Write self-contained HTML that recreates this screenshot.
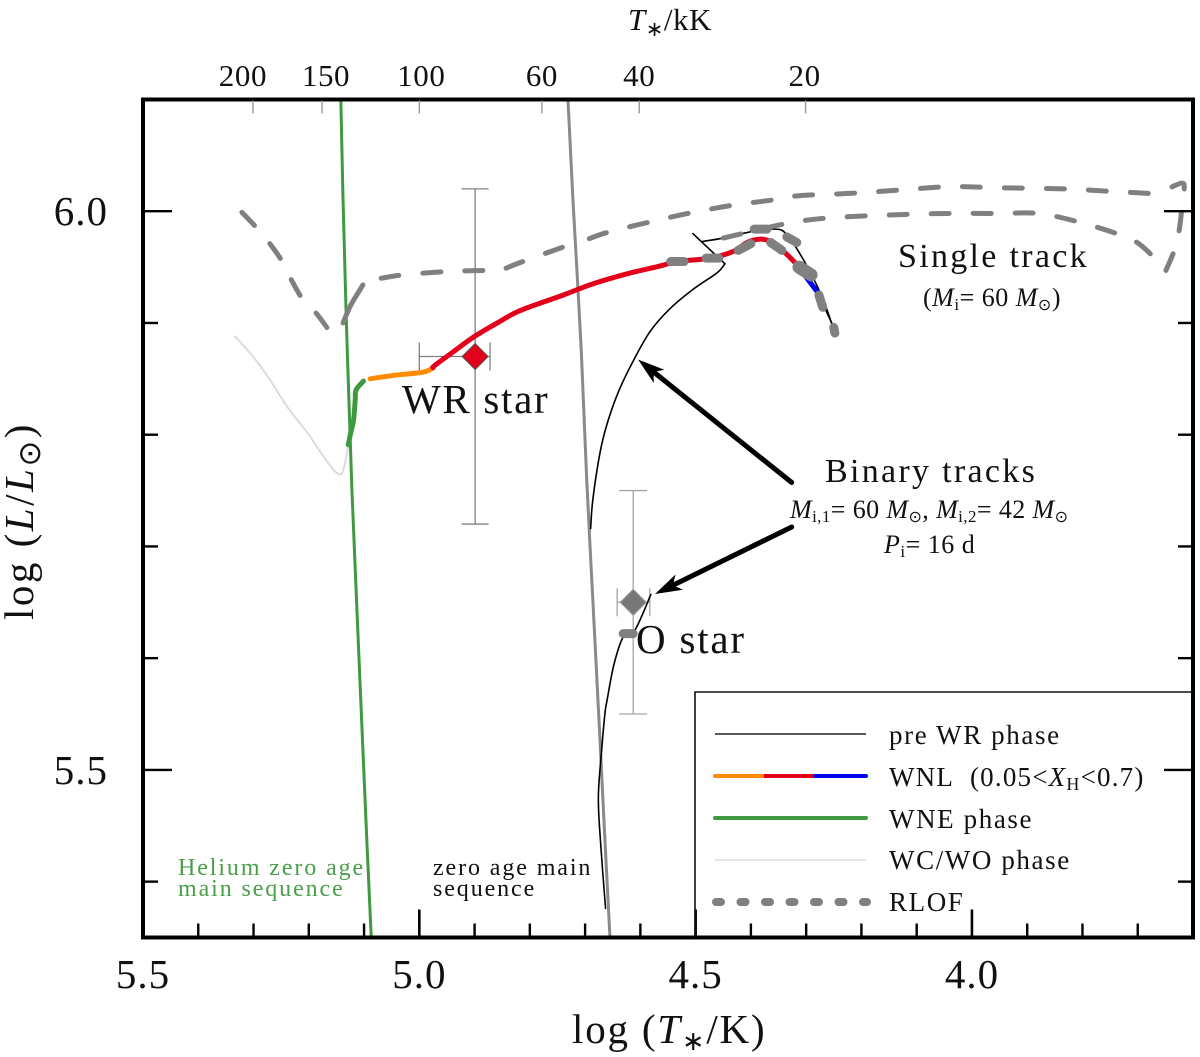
<!DOCTYPE html>
<html lang="en">
<head>
<meta charset="utf-8">
<title>HR diagram with single and binary tracks</title>
<style>
  html, body { margin: 0; padding: 0; background: #fff; }
  svg { display: block; font-family: "Liberation Serif", "DejaVu Serif", serif; fill: #111; }
  .i { font-style: italic; }
</style>
</head>
<body>
<svg id="chart" xmlns="http://www.w3.org/2000/svg" width="1200" height="1057" viewBox="0 0 1200 1057">
  <rect x="0" y="0" width="1200" height="1057" fill="#fff"/>
  <g id="marks"></g>
  <g id="axes"></g>

  <text x="628" y="30" font-size="31" letter-spacing="0.5"><tspan class="i">T</tspan><tspan dy="6" font-size="21" font-family="DejaVu Sans, sans-serif">∗</tspan><tspan dy="-6">/kK</tspan></text>
  <text x="572" y="1043" font-size="41" letter-spacing="1.8">log (<tspan class="i">T</tspan><tspan dy="7" font-size="27" font-family="DejaVu Sans, sans-serif">∗</tspan><tspan dy="-7">/K)</tspan></text>
  <text transform="translate(33,620) rotate(-90)" font-size="41" letter-spacing="2.5">log (<tspan class="i">L</tspan>/<tspan class="i">L</tspan><tspan dy="7" font-size="31" font-family="DejaVu Sans, sans-serif">⊙</tspan><tspan dy="-7">)</tspan></text>

  <text x="402" y="413" font-size="41" letter-spacing="1.7">WR star</text>
  <text x="636" y="653" font-size="41" letter-spacing="1.8">O star</text>

  <text x="898" y="267" font-size="34" letter-spacing="2.3">Single track</text>
  <text x="923" y="306" font-size="26" letter-spacing="0.5">(<tspan class="i">M</tspan><tspan dy="4" font-size="17">i</tspan><tspan dy="-4">= 60 </tspan><tspan class="i">M</tspan><tspan dy="4" font-size="16" font-family="DejaVu Sans, sans-serif">⊙</tspan><tspan dy="-4">)</tspan></text>

  <text x="825" y="482" font-size="34" letter-spacing="2.3">Binary tracks</text>
  <text x="790" y="518" font-size="26" letter-spacing="0.4"><tspan class="i">M</tspan><tspan dy="4" font-size="17">i,1</tspan><tspan dy="-4">= 60 </tspan><tspan class="i">M</tspan><tspan dy="4" font-size="16" font-family="DejaVu Sans, sans-serif">⊙</tspan><tspan dy="-4">, </tspan><tspan class="i">M</tspan><tspan dy="4" font-size="17">i,2</tspan><tspan dy="-4">= 42 </tspan><tspan class="i">M</tspan><tspan dy="4" font-size="16" font-family="DejaVu Sans, sans-serif">⊙</tspan></text>
  <text x="884" y="553" font-size="26" letter-spacing="0.5"><tspan class="i">P</tspan><tspan dy="4" font-size="17">i</tspan><tspan dy="-4">= 16 d</tspan></text>

  <g font-size="24" letter-spacing="1.9" style="fill:#4a9e4a">
    <text x="178" y="875">Helium zero age</text>
    <text x="178" y="896">main sequence</text>
  </g>
  <g font-size="24" letter-spacing="1.9">
    <text x="433" y="875">zero age main</text>
    <text x="433" y="896">sequence</text>
  </g>

  <g id="arrow1"></g>
  <g id="arrow2"></g>

  <g>
    <path d="M695 937 V692 H1193" fill="none" stroke="#111" stroke-width="1.6"/>
    <line x1="715" y1="734" x2="866" y2="734" stroke="#222" stroke-width="1.5"/>
    <line x1="715" y1="776" x2="764" y2="776" stroke="#ff8c00" stroke-width="4" stroke-linecap="round"/>
    <line x1="814" y1="776" x2="866" y2="776" stroke="#0000ee" stroke-width="4" stroke-linecap="round"/>
    <line x1="764" y1="776" x2="814" y2="776" stroke="#e2001a" stroke-width="4"/>
    <line x1="715" y1="818" x2="866" y2="818" stroke="#3f9a3f" stroke-width="4" stroke-linecap="round"/>
    <line x1="715" y1="860" x2="866" y2="860" stroke="#dcdcdc" stroke-width="1.5"/>
    <line x1="716" y1="902" x2="867" y2="902" stroke="#808080" stroke-width="8" stroke-linecap="round" stroke-dasharray="5 19.5"/>
    <g font-size="27" letter-spacing="1.6">
      <text x="889" y="744">pre WR phase</text>
      <text x="889" y="786" letter-spacing="1.2">WNL&#160;&#160;(0.05&lt;<tspan class="i">X</tspan><tspan dy="4" font-size="18">H</tspan><tspan dy="-4">&lt;0.7)</tspan></text>
      <text x="889" y="828">WNE phase</text>
      <text x="889" y="869">WC/WO phase</text>
      <text x="889" y="911">RLOF</text>
    </g>
  </g>
</svg>
<script>
// ---- Axis domains
const xDomain = [5.5, 3.6];
const yDomain = [6.1, 5.35];
const xMajorTicks = [5.5, 5.0, 4.5, 4.0];
const xMajorLabels = ['5.5', '5.0', '4.5', '4.0'];
const xMinorTicks = [5.4, 5.3, 5.2, 5.1, 4.9, 4.8, 4.7, 4.6, 4.4, 4.3, 4.2, 4.1, 3.9, 3.8, 3.7];
const yMajorTicks = [6.0, 5.5];
const yMajorLabels = ['6.0', '5.5'];
const yMinorTicks = [5.9, 5.8, 5.7, 5.6, 5.4];
const topTickKiloKelvin = [200, 150, 100, 60, 40, 20];
const topLabelShift = { 200: -10, 150: 4, 100: 2, 60: 0, 40: 0, 20: -1 };

// ---- Reference lines (log T, log L)
const heliumZamsLogT = [5.142, 5.138, 5.131, 5.122, 5.109, 5.095, 5.087];
const heliumZamsLogL = [6.100, 6.010, 5.885, 5.751, 5.598, 5.437, 5.350];
const zamsLogT = [4.731, 4.722, 4.707, 4.697, 4.686, 4.674, 4.665, 4.655];
const zamsLogL = [6.100, 6.010, 5.876, 5.759, 5.652, 5.536, 5.446, 5.350];

// ---- Single star track (dashed), listed from the start of the run
const singleTrackLogT = [4.450, 4.407, 4.335, 4.260, 4.130, 4.040, 3.949, 3.879, 3.804, 3.732, 3.701, 3.669, 3.649, 3.633, 3.625, 3.620, 3.616, 3.618, 3.633, 3.647, 3.681, 3.756, 3.832, 3.949, 4.040, 4.130, 4.221, 4.311, 4.362, 4.438, 4.514, 4.586, 4.660, 4.700, 4.733, 4.745, 4.818, 4.843, 4.876, 4.952, 5.030, 5.069, 5.102, 5.124, 5.138, 5.153, 5.163, 5.187, 5.212, 5.232, 5.248, 5.272, 5.294, 5.321];
const singleTrackLogL = [5.976, 5.981, 5.989, 5.994, 5.997, 5.998, 5.998, 5.998, 5.990, 5.979, 5.972, 5.958, 5.947, 5.966, 5.983, 6.003, 6.019, 6.025, 6.023, 6.019, 6.016, 6.018, 6.020, 6.021, 6.022, 6.019, 6.016, 6.014, 6.010, 6.005, 5.998, 5.990, 5.981, 5.974, 5.969, 5.967, 5.954, 5.949, 5.947, 5.946, 5.943, 5.940, 5.934, 5.916, 5.900, 5.891, 5.893, 5.909, 5.922, 5.939, 5.955, 5.972, 5.985, 5.999];

// ---- Binary primary track phases
const wcWoLogT = [5.3335, 5.301, 5.270, 5.239, 5.203, 5.167, 5.147, 5.138, 5.129];
const wcWoLogL = [5.888, 5.870, 5.849, 5.825, 5.802, 5.776, 5.765, 5.768, 5.788];
const wneLogT = [5.1285, 5.124, 5.119, 5.116, 5.1145, 5.101];
const wneLogL = [5.791, 5.802, 5.813, 5.831, 5.840, 5.848];
const wnlOrangeLogT = [5.089, 5.048, 4.993, 4.975];
const wnlOrangeLogL = [5.850, 5.853, 5.856, 5.860];
const wnlRedLogT = [4.975, 4.972, 4.939, 4.903, 4.859, 4.818, 4.745, 4.686, 4.624, 4.564, 4.534, 4.474, 4.432, 4.407, 4.383, 4.365, 4.347, 4.320];
const wnlRedLogL = [5.860, 5.862, 5.874, 5.887, 5.900, 5.911, 5.924, 5.935, 5.944, 5.951, 5.955, 5.958, 5.964, 5.972, 5.975, 5.973, 5.967, 5.954];
const wnlBlueLogT = [4.320, 4.280];
const wnlBlueLogL = [5.954, 5.928];

// ---- Pre-WR thin tracks
const preWrPrimaryLogT = [4.690, 4.686, 4.673, 4.660, 4.640, 4.615, 4.583, 4.546, 4.505, 4.461, 4.447];
const preWrPrimaryLogL = [5.716, 5.742, 5.784, 5.810, 5.838, 5.864, 5.892, 5.913, 5.930, 5.945, 5.953];
const preWrHookLogT = [4.447, 4.505];
const preWrHookLogL = [5.953, 5.980];
const preWrUpperLogT = [4.487, 4.450, 4.396, 4.356, 4.335, 4.302, 4.271, 4.250];
const preWrUpperLogL = [5.973, 5.976, 5.982, 5.984, 5.979, 5.954, 5.923, 5.894];
const preWrTailLogT = [4.280, 4.251];
const preWrTailLogL = [5.928, 5.897];
const secondaryLogT = [4.663, 4.672, 4.676, 4.670, 4.664, 4.660, 4.648, 4.631, 4.610, 4.581];
const secondaryLogL = [5.376, 5.435, 5.476, 5.518, 5.551, 5.563, 5.594, 5.619, 5.625, 5.657];

// ---- RLOF segments
const rlofStartLogT = [4.545, 4.481, 4.423, 4.364, 4.394, 4.335, 4.313, 4.277, 4.250, 4.631];
const rlofEndLogT   = [4.521, 4.458, 4.400, 4.344, 4.371, 4.317, 4.291, 4.270, 4.248, 4.613];
const rlofStartLogL = [5.955, 5.958, 5.965, 5.972, 5.984, 5.977, 5.950, 5.925, 5.896, 5.622];
const rlofEndLogL   = [5.955, 5.958, 5.971, 5.965, 5.984, 5.972, 5.943, 5.914, 5.891, 5.622];

// ---- Observed stars
const wrStarLogT = 4.899;
const wrStarLogL = 5.870;
const wrStarTRange = [5.000, 4.872];
const wrStarLRange = [6.020, 5.720];
const oStarLogT = 4.613;
const oStarLogL = 5.650;
const oStarTRange = [4.642, 4.583];
const oStarLRange = [5.750, 5.550];

// ---- Axis functions
const plotLeft = 143, plotRight = 1193, plotTop = 99.5, plotBottom = 937.5;
function xScale(v) { return plotLeft + (xDomain[0] - v) / (xDomain[0] - xDomain[1]) * (plotRight - plotLeft); }
function yScale(v) { return plotTop + (yDomain[0] - v) / (yDomain[0] - yDomain[1]) * (plotBottom - plotTop); }

const NS = 'http://www.w3.org/2000/svg';
const marks = document.getElementById('marks');
const axes = document.getElementById('axes');

function smoothPath(xs, ys) {
  const px = xs.map(xScale), py = ys.map(yScale);
  let d = 'M' + px[0].toFixed(2) + ' ' + py[0].toFixed(2);
  for (let i = 0; i < px.length - 1; i++) {
    const a = Math.max(i - 1, 0), b = Math.min(i + 2, px.length - 1);
    const c1x = px[i] + (px[i + 1] - px[a]) / 6, c1y = py[i] + (py[i + 1] - py[a]) / 6;
    const c2x = px[i + 1] - (px[b] - px[i]) / 6, c2y = py[i + 1] - (py[b] - py[i]) / 6;
    d += 'C' + c1x.toFixed(2) + ' ' + c1y.toFixed(2) + ' ' + c2x.toFixed(2) + ' ' + c2y.toFixed(2) + ' ' + px[i + 1].toFixed(2) + ' ' + py[i + 1].toFixed(2);
  }
  return d;
}

function drawSeries(xs, ys, name, color, width, dash, cap) {
  const el = document.createElementNS(NS, 'path');
  
  
  el.setAttribute('d', smoothPath(xs, ys));
  el.setAttribute('fill', 'none');
  el.setAttribute('stroke', color);
  el.setAttribute('stroke-width', width);
  el.setAttribute('stroke-linejoin', 'round');
  el.setAttribute('stroke-linecap', cap || 'round');
  if (dash) el.setAttribute('stroke-dasharray', dash);
  marks.appendChild(el);
  return el;
}

function drawRule(parent, x1, y1, x2, y2, name, color, width) {
  const el = document.createElementNS(NS, 'line');
  
  
  el.setAttribute('x1', x1);
  el.setAttribute('y1', y1);
  el.setAttribute('x2', x2);
  el.setAttribute('y2', y2);
  el.setAttribute('stroke', color);
  el.setAttribute('stroke-width', width);
  parent.appendChild(el);
}

function drawLabel(parent, x, y, str, size, anchor, name, spacing) {
  const el = document.createElementNS(NS, 'text');
  
  
  el.setAttribute('x', x);
  el.setAttribute('y', y);
  el.setAttribute('font-size', size);
  el.setAttribute('text-anchor', anchor);
  el.setAttribute('letter-spacing', spacing);
  el.textContent = str;
  parent.appendChild(el);
}

function drawDiamond(cx, cy, r, fill, stroke, name) {
  const el = document.createElementNS(NS, 'polygon');
  
  
  el.setAttribute('points', (cx - r) + ',' + cy + ' ' + cx + ',' + (cy - r) + ' ' + (cx + r) + ',' + cy + ' ' + cx + ',' + (cy + r));
  el.setAttribute('fill', fill);
  el.setAttribute('stroke', stroke);
  el.setAttribute('stroke-width', 1);
  marks.appendChild(el);
}

function drawErrorBars(logT, logL, tRange, lRange, color, prefix, capH, capV) {
  const cx = xScale(logT), cy = yScale(logL);
  const xa = xScale(tRange[0]), xb = xScale(tRange[1]);
  const ya = yScale(lRange[0]), yb = yScale(lRange[1]);
  drawRule(marks, cx, ya, cx, yb, prefix + '-error-vertical', color, 1.3);
  drawRule(marks, cx - capV, ya, cx + capV, ya, prefix + '-error-cap-top', color, 1.3);
  drawRule(marks, cx - capV, yb, cx + capV, yb, prefix + '-error-cap-bottom', color, 1.3);
  drawRule(marks, xa, cy, xb, cy, prefix + '-error-horizontal', color, 1.3);
  drawRule(marks, xa, cy - capH, xa, cy + capH, prefix + '-error-cap-left', color, 1.3);
  drawRule(marks, xb, cy - capH, xb, cy + capH, prefix + '-error-cap-right', color, 1.3);
}

function drawSingleTrackRun(from, to, reversed, name, solid) {
  const xs = singleTrackLogT.slice(from, to);
  const ys = singleTrackLogL.slice(from, to);
  if (reversed) { xs.reverse(); ys.reverse(); }
  drawSeries(xs, ys, name, '#808080', 5, solid ? null : '18 24');
}

// ---- Marks, back to front
drawSeries(wcWoLogT, wcWoLogL, 'wc-wo-phase-line', '#dcdcdc', 2);
drawSeries(heliumZamsLogT, heliumZamsLogL, 'helium-zams-line', '#3f9a3f', 3, null, 'butt');
drawSeries(zamsLogT, zamsLogL, 'zams-line', '#8a8a8a', 3, null, 'butt');
drawErrorBars(wrStarLogT, wrStarLogL, wrStarTRange, wrStarLRange, '#808080', 'wr-star', 14, 13.5);
drawErrorBars(oStarLogT, oStarLogL, oStarTRange, oStarLRange, '#a6a6a6', 'o-star', 14, 14);
drawSeries(preWrPrimaryLogT, preWrPrimaryLogL, 'pre-wr-primary-track-line', '#000', 1.6);
drawSeries(preWrHookLogT, preWrHookLogL, 'pre-wr-hook-line', '#000', 1.6);
drawSeries(preWrUpperLogT, preWrUpperLogL, 'pre-wr-single-track-line', '#000', 1.6);
drawSeries(preWrTailLogT, preWrTailLogL, 'pre-wr-tail-line', '#000', 1.6);
drawSeries(secondaryLogT, secondaryLogL, 'secondary-track-line', '#000', 1.6);
drawSeries(wnlOrangeLogT, wnlOrangeLogL, 'wnl-orange-segment', '#ff8c00', 5);
drawSeries(wnlBlueLogT, wnlBlueLogL, 'wnl-blue-segment', '#0000ee', 5);
drawSeries(wnlRedLogT, wnlRedLogL, 'wnl-red-segment', '#e2001a', 5);
drawSeries(wneLogT, wneLogL, 'wne-phase-segment', '#3f9a3f', 5);
drawSingleTrackRun(0, 13, false, 'single-track-dashed-lower-branch');
drawSingleTrackRun(12, 20, false, 'single-track-dashed-curl');
drawSingleTrackRun(20, 34, false, 'single-track-dashed-upper-branch');
drawSingleTrackRun(34, 38, true, 'single-track-dashed-mid-branch');
drawSingleTrackRun(38, 42, true, 'single-track-dashed-plateau');
drawSingleTrackRun(42, 45, false, 'single-track-knee', true);
drawSingleTrackRun(46, singleTrackLogT.length, true, 'single-track-dashed-left-branch');
for (let i = 0; i < rlofStartLogT.length; i++) {
  drawSeries([rlofStartLogT[i], rlofEndLogT[i]], [rlofStartLogL[i], rlofEndLogL[i]], 'rlof-segment-' + (i + 1), '#808080', i === 6 ? 13 : 9);
}
drawDiamond(xScale(wrStarLogT), yScale(wrStarLogL), 13, '#e2001a', '#555', 'wr-star-marker');
drawDiamond(xScale(oStarLogT), yScale(oStarLogL), 13, '#777', '#999', 'o-star-marker');

// ---- Axes
const frame = document.createElementNS(NS, 'rect');


frame.setAttribute('x', plotLeft);
frame.setAttribute('y', plotTop);
frame.setAttribute('width', plotRight - plotLeft);
frame.setAttribute('height', plotBottom - plotTop);
frame.setAttribute('fill', 'none');
frame.setAttribute('stroke', '#000');
frame.setAttribute('stroke-width', 4);
axes.appendChild(frame);

xMajorTicks.forEach(function (v, i) {
  const x = xScale(v);
  drawRule(axes, x, plotBottom, x, plotBottom - 28, 'x-major-tick', '#000', 2.6);
  drawLabel(axes, x, 988, xMajorLabels[i], 41, 'middle', 'x-tick-label', 1);
});
xMinorTicks.forEach(function (v) {
  const x = xScale(v);
  drawRule(axes, x, plotBottom, x, plotBottom - 14, 'x-minor-tick', '#000', 2.4);
});
yMajorTicks.forEach(function (v, i) {
  const y = yScale(v);
  drawRule(axes, plotLeft, y, plotLeft + 29, y, 'y-major-tick-left', '#000', 2.4);
  drawRule(axes, plotRight, y, plotRight - 29, y, 'y-major-tick-right', '#000', 2.4);
  drawLabel(axes, 108, y + 14, yMajorLabels[i], 41, 'end', 'y-tick-label', 1);
});
yMinorTicks.forEach(function (v) {
  const y = yScale(v);
  drawRule(axes, plotLeft, y, plotLeft + 15, y, 'y-minor-tick-left', '#000', 2.4);
  drawRule(axes, plotRight, y, plotRight - 15, y, 'y-minor-tick-right', '#000', 2.4);
});
topTickKiloKelvin.forEach(function (k) {
  const x = xScale(Math.log10(k * 1000));
  drawRule(axes, x, plotTop + 1, x, plotTop + 14, 'top-axis-tick', '#999', 1.4);
  drawLabel(axes, x + topLabelShift[k], 86, String(k), 31, 'middle', 'top-tick-label', 0.6);
});

// ---- Annotation arrows
function drawArrow(holder, x1, y1, x2, y2) {
  const dx = x2 - x1, dy = y2 - y1, len = Math.hypot(dx, dy);
  const ux = dx / len, uy = dy / len;
  const nx = -uy, ny = ux;
  const headLen = 27, notch = 20, halfW = 8.5;
  const shaft = document.createElementNS(NS, 'line');
  
  
  shaft.setAttribute('x1', x1);
  shaft.setAttribute('y1', y1);
  shaft.setAttribute('x2', x2 - ux * notch);
  shaft.setAttribute('y2', y2 - uy * notch);
  shaft.setAttribute('stroke', '#000');
  shaft.setAttribute('stroke-width', 5);
  shaft.setAttribute('stroke-linecap', 'round');
  holder.appendChild(shaft);
  const head = document.createElementNS(NS, 'polygon');
  
  
  const bx = x2 - ux * headLen, by = y2 - uy * headLen;
  const mx = x2 - ux * notch, my = y2 - uy * notch;
  head.setAttribute('points', x2 + ',' + y2 + ' ' + (bx + nx * halfW) + ',' + (by + ny * halfW) + ' ' + mx + ',' + my + ' ' + (bx - nx * halfW) + ',' + (by - ny * halfW));
  head.setAttribute('fill', '#000');
  holder.appendChild(head);
}
drawArrow(document.getElementById('arrow1'), 791.7, 482.5, 638, 359.5);
drawArrow(document.getElementById('arrow2'), 791.7, 527, 655, 594);
</script>
</body>
</html>
